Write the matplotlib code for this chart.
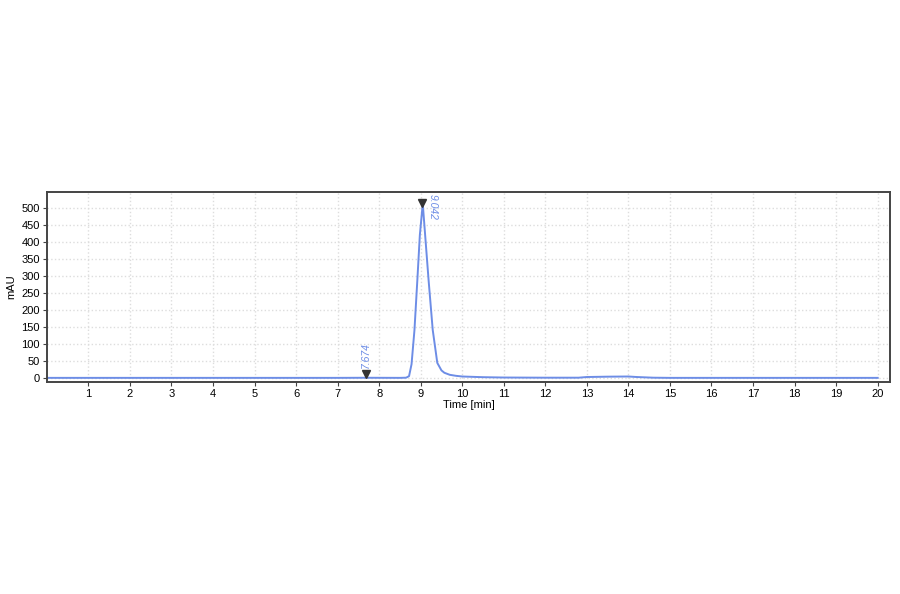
import numpy as np
import matplotlib.pyplot as plt

plt.rcParams['font.family'] = ['Liberation Sans', 'DejaVu Sans']

# chromatogram trace
time_min = [0, 7.0, 7.674, 8.5, 8.65, 8.72, 8.78, 8.85, 8.92, 8.98, 9.05, 9.12,
            9.19, 9.29, 9.40, 9.5, 9.57, 9.7, 9.85, 10.0, 10.5, 11.0, 12.0,
            12.8, 13.0, 13.5, 14.0, 14.2, 14.6, 15.0, 20.0]
signal_mau = [0, 0, 0.3, 0, 0.5, 5, 40, 140, 288, 420, 512, 400,
              288, 141, 44, 22, 15, 9, 6, 4, 2, 1, 0.5,
              0.5, 2.5, 3.5, 4, 2.5, 0.5, 0, 0]

peak_times = [7.674, 9.042]
peak_heights = [0.3, 512]
peak_labels = ["7.674", "9.042"]

line_color = "#6d8de6"

fig = plt.figure(figsize=(9, 5.94), dpi=100)
ax = fig.add_axes([0.052, 0.357, 0.937, 0.32])

ax.plot(time_min, signal_mau, color=line_color, lw=1.4)

# small peak: label above marker, reading upward
ax.plot(peak_times[0], peak_heights[0] + 10, marker="v", color="#333333", ms=6, zorder=5)
ax.text(peak_times[0], peak_heights[0] + 28, peak_labels[0], rotation=90,
        color=line_color, fontsize=7.5, style="italic", ha="center", va="bottom")
# main peak: label to the right of marker, reading downward
ax.plot(peak_times[1], peak_heights[1] + 3, marker="v", color="#333333", ms=6, zorder=5)
ax.text(peak_times[1] + 0.12, peak_heights[1] + 30, peak_labels[1], rotation=-90,
        color=line_color, fontsize=7.5, style="italic", ha="left", va="top")

ax.set_xlim(0, 20.3)
ax.set_ylim(-12, 547)
ax.set_xticks(range(1, 21))
ax.set_yticks(range(0, 501, 50))
ax.tick_params(labelsize=8, length=3, width=0.8, color="#444444", pad=2)
ax.grid(True, color="#dddddd", ls=":", lw=1.0)
for sp in ax.spines.values():
    sp.set_linewidth(1.4)
    sp.set_color("#444444")
ax.set_xlabel("Time [min]", fontsize=8, labelpad=1)
ax.set_ylabel("mAU", fontsize=8, labelpad=4)

fig.savefig("out.png", dpi=100)
